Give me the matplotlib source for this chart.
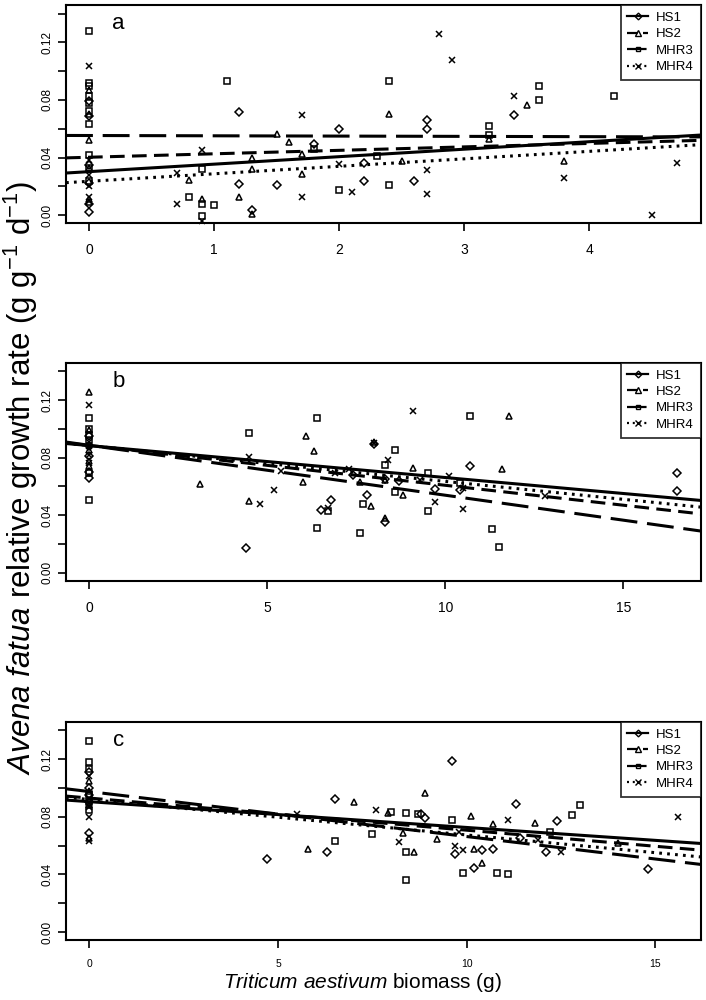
import numpy as np
import matplotlib.pyplot as plt
from matplotlib.lines import Line2D

plt.rcParams["font.family"] = ["Liberation Sans", "DejaVu Sans"]
plt.rcParams["mathtext.fontset"] = "custom"
plt.rcParams["mathtext.rm"] = "Liberation Sans"
plt.rcParams["mathtext.it"] = "Liberation Sans:italic"

series = ["HS1", "HS2", "MHR3", "MHR4"]

# ---- panel a ----
a_hs1_x = [0, 0, 0, 0, 0, 0, 1.2, 1.2, 1.3, 1.5, 1.8, 2.0, 2.2, 2.2, 2.6, 2.7, 2.7, 3.4]
a_hs1_y = [0.079, 0.069, 0.035, 0.022, 0.008, 0.002, 0.0716, 0.0216, 0.0037, 0.021, 0.0495, 0.0595,
           0.0363, 0.024, 0.024, 0.0658, 0.060, 0.0698]
a_hs2_x = [0, 0, 0, 0, 0, 0, 0.8, 0.9, 1.2, 1.3, 1.3, 1.3, 1.5, 1.6, 1.7, 1.7, 2.4, 2.5, 3.2, 3.5, 3.8]
a_hs2_y = [0.0872, 0.0705, 0.0519, 0.033, 0.0088, 0.011, 0.0244, 0.011, 0.0123, 0.0398, 0.032, 0.0007,
           0.0565, 0.0507, 0.0426, 0.0286, 0.0705, 0.0379, 0.053, 0.0763, 0.0379]
a_mhr3_x = [0, 0, 0, 0, 0, 0, 0, 0, 0, 0, 0.8, 0.9, 0.9, 0.9, 1.0, 1.1, 1.8, 2.0, 2.3, 2.4, 2.4,
            3.2, 3.2, 3.6, 3.6, 4.2]
a_mhr3_y = [0.128, 0.0919, 0.0895, 0.083, 0.078, 0.072, 0.063, 0.042, 0.033, 0.024, 0.0123, 0.032,
            0.0077, -0.0005, 0.0072, 0.0933, 0.046, 0.0174, 0.041, 0.0933, 0.0209, 0.0619, 0.0558,
            0.0895, 0.0802, 0.0826]
a_mhr4_x = [0, 0, 0, 0, 0, 0.7, 0.7, 0.9, 0.9, 1.7, 1.7, 2.0, 2.1, 2.7, 2.7, 2.8, 2.9, 3.4, 3.8, 4.5, 4.7]
a_mhr4_y = [0.1037, 0.038, 0.0205, 0.0123, 0.028, 0.029, 0.0077, 0.0449, -0.0044, 0.0698, 0.0123,
            0.0356, 0.0158, 0.0314, 0.0147, 0.1256, 0.1077, 0.0826, 0.0256, 0.0, 0.0363]
a_intercept = [0.0302, 0.0402, 0.0553, 0.0235]
a_slope = [0.0052, 0.0024, -0.0002, 0.0052]

# ---- panel b ----
b_hs1_x = [0, 0, 0, 0, 0, 4.4, 6.5, 6.8, 7.4, 7.8, 8.0, 8.3, 8.3, 8.7, 9.7, 10.4, 10.7, 16.5, 16.5]
b_hs1_y = [0.0815, 0.066, 0.070, 0.095, 0.088, 0.0174, 0.0435, 0.0509, 0.0678, 0.0544, 0.0898, 0.065,
           0.035, 0.0641, 0.0579, 0.0574, 0.0745, 0.0694, 0.0567]
b_hs2_x = [0, 0, 0, 0, 0, 3.1, 4.5, 6.0, 6.1, 6.3, 7.6, 7.9, 8.0, 8.3, 8.3, 8.8, 9.1, 11.6, 11.8]
b_hs2_y = [0.1255, 0.074, 0.078, 0.099, 0.085, 0.062, 0.0498, 0.0632, 0.0954, 0.0845, 0.063, 0.0463,
           0.0907, 0.0648, 0.038, 0.0544, 0.0725, 0.0718, 0.1088]
b_mhr3_x = [0, 0, 0, 0, 0, 0, 4.5, 6.4, 6.4, 6.7, 7.6, 7.7, 8.3, 8.6, 8.6, 9.5, 9.5, 10.4, 10.7,
            11.3, 11.5]
b_mhr3_y = [0.1076, 0.100, 0.096, 0.092, 0.0505, 0.069, 0.0972, 0.1074, 0.0308, 0.0428, 0.0278,
            0.0479, 0.0752, 0.0856, 0.056, 0.0694, 0.0428, 0.0625, 0.1093, 0.0301, 0.0178]
b_mhr4_x = [0, 0, 0, 0, 0, 4.5, 4.8, 5.2, 5.4, 6.7, 6.9, 7.3, 8.0, 8.4, 9.1, 9.3, 9.7, 10.1, 10.5,
            10.5, 12.8]
b_mhr4_y = [0.1164, 0.091, 0.082, 0.088, 0.076, 0.0806, 0.0481, 0.0572, 0.0706, 0.045, 0.069,
            0.0718, 0.090, 0.0787, 0.1127, 0.0648, 0.0491, 0.0676, 0.059, 0.0444, 0.0537]
b_intercept = [0.0884, 0.0885, 0.0886, 0.0884]
b_slope = [-0.00222, -0.00277, -0.00347, -0.00249]

# ---- panel c ----
c_hs1_x = [0, 0, 0, 0, 0, 4.7, 6.3, 6.5, 8.8, 8.9, 9.6, 9.7, 10.2, 10.4, 10.7, 11.3, 11.4, 12.1,
           12.4, 14.8]
c_hs1_y = [0.111, 0.0688, 0.090, 0.100, 0.095, 0.051, 0.0557, 0.0922, 0.082, 0.0795, 0.1185, 0.0541,
           0.0448, 0.0568, 0.0575, 0.0892, 0.0656, 0.0557, 0.0772, 0.0437]
c_hs2_x = [0, 0, 0, 0, 0, 5.8, 7.0, 7.9, 8.3, 8.6, 8.9, 9.2, 10.1, 10.2, 10.4, 10.7, 11.8, 14.0]
c_hs2_y = [0.065, 0.098, 0.088, 0.105, 0.092, 0.0575, 0.0903, 0.0829, 0.0688, 0.0557, 0.0966,
           0.0644, 0.0804, 0.0575, 0.0476, 0.0748, 0.076, 0.0619]
c_mhr3_x = [0, 0, 0, 0, 0, 0, 6.5, 7.5, 8.0, 8.4, 8.4, 8.4, 8.7, 9.6, 9.9, 10.8, 11.1, 12.2, 12.8, 13.0]
c_mhr3_y = [0.1324, 0.118, 0.113, 0.095, 0.085, 0.090, 0.0631, 0.0679, 0.0834, 0.0829, 0.0557,
            0.036, 0.082, 0.0776, 0.0407, 0.0413, 0.040, 0.0695, 0.0815, 0.0885]
c_mhr4_x = [0, 0, 0, 0, 0, 5.5, 7.6, 8.2, 9.7, 9.8, 9.9, 11.1, 11.9, 12.5, 15.6]
c_mhr4_y = [0.080, 0.0633, 0.093, 0.108, 0.087, 0.0822, 0.085, 0.0626, 0.0595, 0.0695, 0.0568,
            0.0776, 0.0642, 0.0557, 0.0799]
c_intercept = [0.0905, 0.093, 0.0975, 0.092]
c_slope = [-0.00179, -0.00223, -0.00312, -0.00246]

markers = {"HS1": ("D", 3.8), "HS2": ("^", 5.0), "MHR3": ("s", 3.8), "MHR4": ("x", 4.5)}
dashes = {"HS1": None, "HS2": (4.8, 2.4), "MHR3": (8.8, 3.2), "MHR4": (0.9, 1.7)}
LW = 2.2


def line_kw(s):
    kw = dict(color="black", lw=LW)
    if dashes[s] is None:
        kw["linestyle"] = "-"
    else:
        kw["linestyle"] = (0, dashes[s])
    return kw


def draw_panel(ax, pts, intercepts, slopes, letter, xlim, xticks, xtick_size, xpad):
    for s, (xs, ys) in zip(series, pts):
        m, ms = markers[s]
        if m == "x":
            ax.plot(xs, ys, ls="none", marker=m, ms=ms, mew=1.1, color="black", clip_on=False)
        else:
            ax.plot(xs, ys, ls="none", marker=m, ms=ms, mew=1.1, mfc="none", mec="black",
                    clip_on=False)
    # fitted regression lines span the whole panel
    for s, b0, b1 in zip(series, intercepts, slopes):
        ax.axline((0, b0), slope=b1, **line_kw(s))

    ax.set_xlim(*xlim)
    ax.set_ylim(-0.0055, 0.146)
    ax.set_xticks(xticks)
    ax.set_xticklabels([str(t) for t in xticks], fontsize=xtick_size)
    yt = np.arange(0, 0.141, 0.02)
    ax.set_yticks(yt)
    ax.set_yticklabels(["0.00", "", "0.04", "", "0.08", "", "0.12", ""], rotation=90,
                       va="center", fontsize=8.5)
    ax.tick_params(axis="x", length=6, width=1.2, pad=xpad)
    ax.tick_params(axis="y", length=6, width=1.2, pad=3)
    for sp in ax.spines.values():
        sp.set_linewidth(1.5)
    ax.text(0.083, 0.913, letter, transform=ax.transAxes, fontsize=16, va="center", ha="center")

    handles = []
    for s in series:
        m, ms = markers[s]
        h = Line2D([], [], marker=m, ms=ms * 0.9, mew=1.0, mfc="none" if m != "x" else "black",
                   mec="black", **dict(line_kw(s), lw=1.6))
        handles.append(h)
    leg = ax.legend(handles, series, loc="upper right", borderaxespad=0, frameon=True,
                    fancybox=False, edgecolor="black", fontsize=9.5, handlelength=1.6,
                    handletextpad=0.6, labelspacing=0.32, borderpad=0.5)
    leg.get_frame().set_linewidth(1.3)


fig = plt.figure(figsize=(7.06, 10), dpi=100)
ax_a = fig.add_axes([0.0935, 0.777, 0.899, 0.218])
ax_b = fig.add_axes([0.0935, 0.4193, 0.899, 0.218])
ax_c = fig.add_axes([0.0935, 0.060, 0.899, 0.2183])

draw_panel(ax_a, [(a_hs1_x, a_hs1_y), (a_hs2_x, a_hs2_y), (a_mhr3_x, a_mhr3_y), (a_mhr4_x, a_mhr4_y)],
           a_intercept, a_slope, "a", (-0.186, 4.89), [0, 1, 2, 3, 4], 10, 8.5)
draw_panel(ax_b, [(b_hs1_x, b_hs1_y), (b_hs2_x, b_hs2_y), (b_mhr3_x, b_mhr3_y), (b_mhr4_x, b_mhr4_y)],
           b_intercept, b_slope, "b", (-0.65, 17.17), [0, 5, 10, 15], 10, 8.5)
draw_panel(ax_c, [(c_hs1_x, c_hs1_y), (c_hs2_x, c_hs2_y), (c_mhr3_x, c_mhr3_y), (c_mhr4_x, c_mhr4_y)],
           c_intercept, c_slope, "c", (-0.62, 16.2), [0, 5, 10, 15], 7.5, 8)

fig.text(0.029, 0.522, r"$\it{Avena\ fatua}$ relative growth rate (g g$^{-1}$ d$^{-1}$)",
         rotation=90, ha="center", va="center", fontsize=22.5)
fig.text(0.514, 0.012, r"$\it{Triticum\ aestivum}$ biomass (g)", ha="center", va="baseline",
         fontsize=15)

fig.savefig("out.png", dpi=100)
